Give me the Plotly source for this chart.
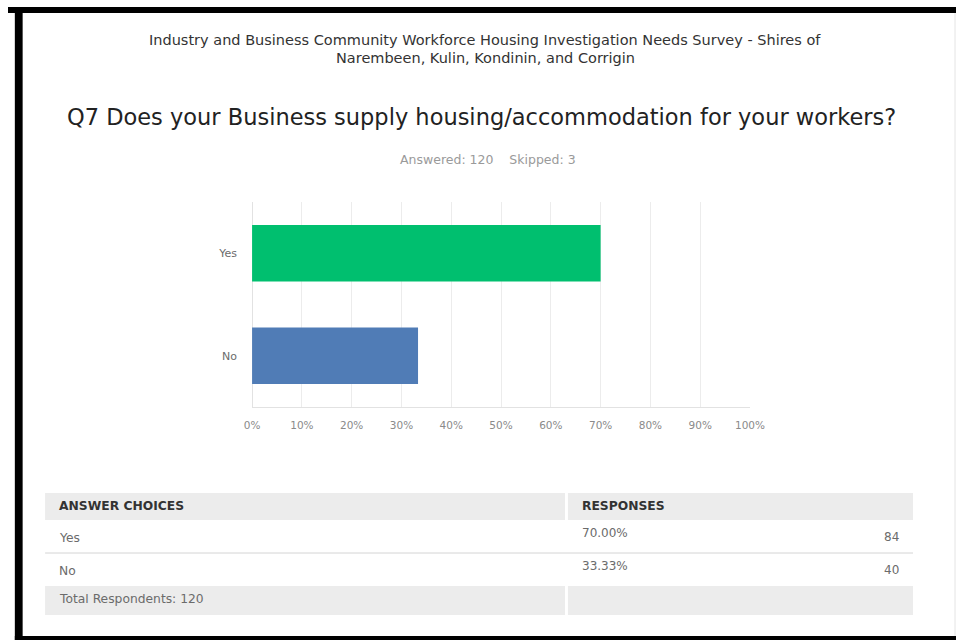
import plotly.graph_objects as go

# Survey question data
choices = ["Yes", "No"]
percents = [70.00, 33.33]
counts = [84, 40]
answered = 120
skipped = 3
x_ticks = list(range(0, 101, 10))

W, H = 971, 640
bar_colors = ["#00bf6f", "#507cb6"]
FONT = "DejaVu Sans"


def px(x):
    return x / W


def py(y):
    return 1 - y / H


def label(text, x, y, size, color, xanchor="center", family=FONT):
    return dict(text=text, x=px(x), y=py(y), xref="paper", yref="paper", showarrow=False,
                xanchor=xanchor, yanchor="middle",
                font=dict(family=family, size=size, color=color))


def box(x0, x1, y0, y1, color):
    return dict(type="rect", xref="paper", yref="paper", x0=px(x0), x1=px(x1),
                y0=py(y0), y1=py(y1), fillcolor=color, line=dict(width=0), layer="below")


fig = go.Figure()
fig.add_trace(go.Bar(
    x=percents,
    y=choices,
    orientation="h",
    marker=dict(color=bar_colors, line=dict(width=0)),
    width=0.55,
    hoverinfo="x+y",
))

shapes = []
annotations = []

# Page frame (black edges on top, left and bottom, faint edge at right)
shapes += [
    box(0, W, 7, 13, "black"),
    box(7, 15, 7, H, "black"),
    box(7, W, 636, H, "black"),
    dict(type="line", xref="paper", yref="paper", x0=px(970), x1=px(970), y0=py(13), y1=py(636),
         line=dict(color="#e4e4e4", width=1)),
]

# Headings
annotations += [
    label("Industry and Business Community Workforce Housing Investigation Needs Survey - Shires of",
          489, 40.5, 14.5, "#333333"),
    label("Narembeen, Kulin, Kondinin, and Corrigin", 489, 57.5, 14.5, "#333333"),
    label("Q7 Does your Business supply housing/accommodation for your workers?",
          485, 117, 22.5, "#222222"),
    label(f"Answered: {answered}&nbsp;&nbsp;&nbsp;&nbsp;Skipped: {skipped}", 492, 159, 12.5, "#9a9a9a"),
]

# Summary table below the chart
tbl_l, tbl_split, tbl_r = 38, 572, 927
gap = 3
head_top, head_bot = 493, 520
row_h = 33
grey = "#ececec"
text_grey = "#6b6b6b"

shapes += [
    box(tbl_l, tbl_split - gap / 2, head_top, head_bot, grey),
    box(tbl_split + gap / 2, tbl_r, head_top, head_bot, grey),
]
annotations += [
    label("<b>ANSWER CHOICES</b>", 50, 506, 12.3, "#333333", "left"),
    label("<b>RESPONSES</b>", 586, 506, 12.3, "#333333", "left"),
]

row_top = head_bot
for i, (c, p, n) in enumerate(zip(choices, percents, counts)):
    top = row_top + i * row_h
    if i > 0:
        shapes.append(dict(type="line", xref="paper", yref="paper", x0=px(tbl_l), x1=px(tbl_r),
                           y0=py(top), y1=py(top), line=dict(color="#d4d4d4", width=1)))
    annotations += [
        label(c, 50, top + 18, 12.3, text_grey, "left"),
        label(f"{p:.2f}%", 586, top + 13, 12, text_grey, "left"),
        label(str(n), 915, top + 17, 12, text_grey, "right"),
    ]

tot_top = row_top + len(choices) * row_h
tot_bot = tot_top + 29
shapes += [
    box(tbl_l, tbl_split - gap / 2, tot_top, tot_bot, grey),
    box(tbl_split + gap / 2, tbl_r, tot_top, tot_bot, grey),
]
annotations.append(label(f"Total Respondents: {answered}", 50, tot_top + 13, 12.3, text_grey, "left"))

fig.update_layout(
    width=W, height=H,
    autosize=False,
    margin=dict(l=0, r=0, t=0, b=0),
    paper_bgcolor="white", plot_bgcolor="white",
    showlegend=False,
    shapes=shapes,
    annotations=annotations,
    xaxis=dict(
        domain=[px(250), px(760)],
        range=[0, 100],
        tickvals=x_ticks,
        ticktext=[f"{t}%" for t in x_ticks],
        showgrid=True, gridcolor="#ececec", gridwidth=1,
        zeroline=True, zerolinecolor="#e2e2e2", zerolinewidth=1,
        showline=True, linecolor="#e2e2e2", linewidth=1,
        ticks="", ticklabelstandoff=8,
        tickfont=dict(family=FONT, size=10.5, color="#8a8a8a"),
        fixedrange=True,
    ),
    yaxis=dict(
        domain=[py(407), py(202)],
        categoryorder="array", categoryarray=choices,
        autorange="reversed",
        showgrid=False, zeroline=False, showline=False,
        ticks="", ticklabelstandoff=14,
        tickfont=dict(family=FONT, size=11, color="#6b6b6b"),
        fixedrange=True,
    ),
)

fig.write_html(
    "out.html",
    config={"responsive": False, "displayModeBar": False},
    post_script="document.body.style.margin='0';document.body.style.overflow='hidden';",
)
